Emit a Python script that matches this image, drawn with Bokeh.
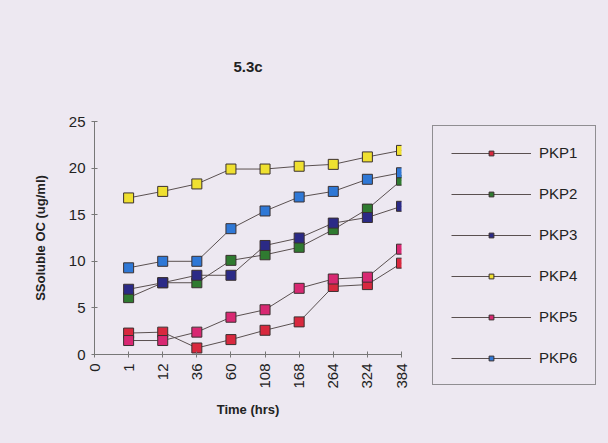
import math
from bokeh.plotting import figure
from bokeh.layouts import row
from bokeh.models import FixedTicker, Range1d, Legend, LegendItem
from bokeh.embed import file_html
from bokeh.resources import INLINE

time_labels = ["0", "1", "12", "36", "60", "108", "168", "264", "324", "384"]
data_times = ["1", "12", "36", "60", "108", "168", "264", "324", "384"]

pkp1 = [2.3, 2.4, 0.7, 1.6, 2.6, 3.5, 7.3, 7.5, 9.8]
pkp2 = [6.1, 7.7, 7.7, 10.1, 10.7, 11.5, 13.4, 15.6, 18.7]
pkp3 = [7.0, 7.7, 8.5, 8.5, 11.7, 12.5, 14.1, 14.7, 15.9]
pkp4 = [16.8, 17.5, 18.3, 19.9, 19.9, 20.2, 20.4, 21.2, 21.9]
pkp5 = [1.5, 1.5, 2.4, 4.0, 4.8, 7.1, 8.1, 8.3, 11.3]
pkp6 = [9.3, 10.0, 10.0, 13.5, 15.4, 16.9, 17.5, 18.8, 19.5]

series_names = ["PKP1", "PKP2", "PKP3", "PKP4", "PKP5", "PKP6"]
series_values = [pkp1, pkp2, pkp3, pkp4, pkp5, pkp6]
colors = ["#D8283E", "#2F7A30", "#2B2A86", "#EFE030", "#D82872", "#2F78D6"]

BG = "#EDE8F1"
FONT = "Liberation Sans"
LINE = "#5a5050"
EDGE = "#3a3030"

p = figure(width=420, height=443, output_backend="svg", toolbar_location=None,
           x_range=Range1d(0, 9), y_range=Range1d(0, 25),
           min_border_left=94, min_border_right=19,
           min_border_top=121, min_border_bottom=89)
p.frame_align = False
p.background_fill_color = BG
p.border_fill_color = BG
p.outline_line_color = None
p.grid.visible = False

xpos = [time_labels.index(t) for t in data_times]

for name, vals, col in zip(series_names, series_values, colors):
    p.line(xpos, vals, line_color=LINE, line_width=1)
    p.scatter(xpos, vals, marker="square", size=10, fill_color=col,
              line_color=EDGE, line_width=1)

p.xaxis.ticker = FixedTicker(ticks=list(range(len(time_labels))))
p.xaxis.major_label_overrides = {i: t for i, t in enumerate(time_labels)}
p.xaxis.major_label_orientation = math.pi / 2
p.yaxis.ticker = FixedTicker(ticks=[0, 5, 10, 15, 20, 25])

for ax in (p.xaxis, p.yaxis):
    ax.axis_line_color = "#777777"
    ax.major_tick_line_color = "#777777"
    ax.minor_tick_line_color = None
    ax.major_tick_in = 3
    ax.major_tick_out = 3
    ax.major_label_text_font = FONT
    ax.major_label_text_font_size = "15px"
    ax.major_label_text_color = "#222222"
    ax.axis_label_text_font = FONT
    ax.axis_label_text_font_style = "bold"
    ax.axis_label_text_font_size = "13px"
    ax.axis_label_text_color = "#222222"

p.xaxis.axis_label = "Time (hrs)"
p.yaxis.axis_label = "SSoluble OC (ug/ml)"
p.xaxis.major_label_standoff = 6
p.yaxis.major_label_standoff = 6
p.xaxis.axis_label_standoff = 10
p.yaxis.axis_label_standoff = 18

p.title.text = "5.3c"
p.title.align = "center"
p.title.text_font = FONT
p.title.text_font_size = "15px"
p.title.text_font_style = "bold"
p.title.text_color = "#222222"
p.title.standoff = 94

# legend panel: a second figure whose renderers lie outside its visible range
q = figure(width=188, height=443, output_backend="svg", toolbar_location=None,
           x_range=Range1d(100, 101), y_range=Range1d(100, 101),
           min_border=0)
q.frame_align = False
q.axis.visible = False
q.grid.visible = False
q.outline_line_color = None
q.background_fill_color = BG
q.border_fill_color = BG

items = []
for name, vals, col in zip(series_names, series_values, colors):
    r1 = q.line(xpos, vals, line_color=LINE, line_width=1)
    r2 = q.scatter(xpos, vals, marker="square", size=8, fill_color=col,
                   line_color=EDGE, line_width=1)
    items.append(LegendItem(label=name, renderers=[r1, r2]))

legend = Legend(items=items, location=(12, 58), orientation="vertical",
                label_text_font=FONT, label_text_font_size="15px",
                label_text_color="#222222",
                glyph_width=80, glyph_height=12, spacing=24,
                padding=18, margin=0, label_standoff=8,
                border_line_color="#333333", border_line_width=1,
                background_fill_color=BG, background_fill_alpha=1)
q.add_layout(legend, "center")

layout = row(p, q, spacing=0, styles={"background-color": BG})
open("out.html", "w").write(file_html(layout, INLINE))
